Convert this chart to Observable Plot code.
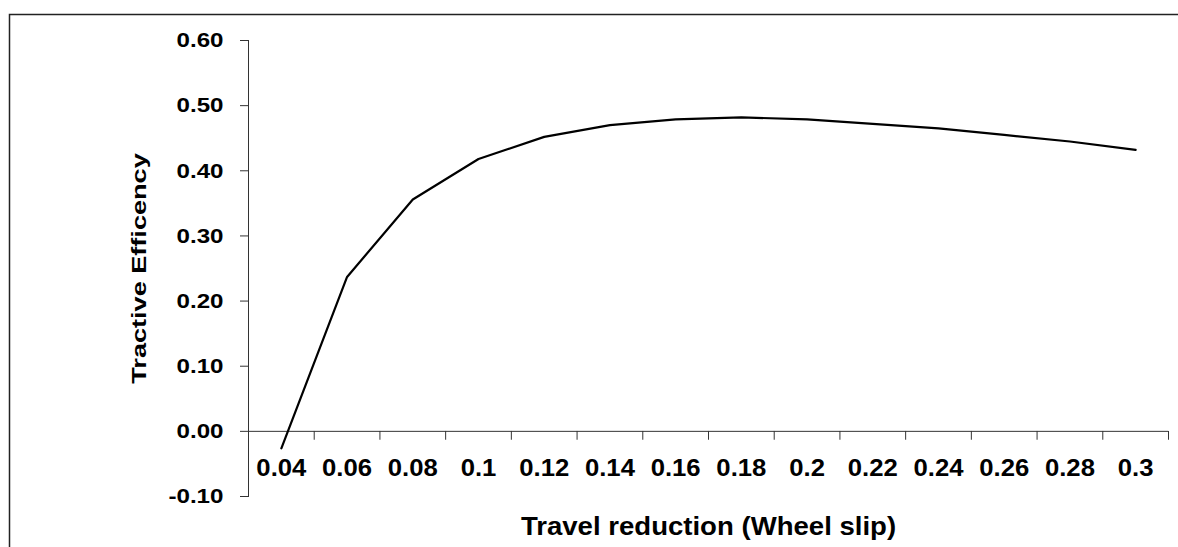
<!DOCTYPE html>
<html><head><meta charset="utf-8">
<script src="https://cdn.jsdelivr.net/npm/d3@7"></script>
<script src="https://cdn.jsdelivr.net/npm/@observablehq/plot@0.6"></script>
<style>
html,body{margin:0;padding:0;background:#fff;}
#chart{width:1178px;height:547px;overflow:hidden;}
</style>
</head><body><div id="chart"></div>
<script>
// Data
const slipLabels = ["0.04","0.06","0.08","0.1","0.12","0.14","0.16","0.18","0.2","0.22","0.24","0.26","0.28","0.3"];
const efficiency = [-0.026, 0.237, 0.356, 0.418, 0.452, 0.470, 0.479, 0.482, 0.479, 0.472, 0.465, 0.455, 0.445, 0.432];
const yTicks = [-0.1, 0, 0.1, 0.2, 0.3, 0.4, 0.5, 0.6];
const xTitle = "Travel reduction (Wheel slip)";
const yTitle = "Tractive Efficency";

const data = slipLabels.map((label, i) => ({label, pos: i + 0.5, value: efficiency[i]}));
const boundaries = d3.range(slipLabels.length + 1);

const tickShape = {draw(ctx, l) { ctx.moveTo(0, 0); ctx.lineTo(0, -l); }};
const axisColor = "#333";
const fmtY = d => d.toFixed(2); // plain hyphen minus like the reference

const chart = Plot.plot({
  width: 1178,
  height: 547,
  marginLeft: 248,
  marginRight: 10,
  marginTop: 40,
  marginBottom: 51,
  style: {fontFamily: "'Liberation Sans', Arial, sans-serif", fontSize: "21px", fontWeight: "bold", color: "#000", background: "#fff"},
  x: {domain: [0, slipLabels.length], axis: null},
  y: {domain: [-0.1, 0.6], axis: null},
  marks: [
    Plot.axisY({ticks: yTicks, tickFormat: fmtY, tickSize: 8, tickPadding: 17, fontSize: 21, label: null, stroke: axisColor, fill: "#000"}),
    Plot.frame({anchor: "left", stroke: axisColor}),
    Plot.ruleY([0], {stroke: axisColor}),
    Plot.vector(boundaries, {x: d => d, y: 0, length: 8, rotate: 180, anchor: "start", shape: tickShape, stroke: axisColor, strokeWidth: 1}),
    Plot.text(data, {x: "pos", y: 0, text: "label", dy: 37, fontSize: 24, lineAnchor: "middle", fill: "#000", ariaLabel: () => "x-labels"}),
    Plot.line(data, {x: "pos", y: "value", stroke: "#000", strokeWidth: 2.2}),
    Plot.text([xTitle], {text: d => d, frameAnchor: "bottom", dy: 30.5, fontSize: 26, textAnchor: "middle", lineAnchor: "middle", fill: "#000", ariaLabel: () => "x-title"}),
    Plot.text([yTitle], {text: d => d, frameAnchor: "left", dx: -109, rotate: -90, fontSize: 21, textAnchor: "middle", lineAnchor: "middle", fill: "#000", ariaLabel: () => "y-title"})
  ]
});

document.getElementById("chart").appendChild(chart);

// Widen text glyphs to match the reference's wide bold rendering
const stretch = {"y-axis tick label": 1.15, "x-labels": 1.07, "x-title": 1.06, "y-title": 1.29};
chart.querySelectorAll("text").forEach(t => {
  let key = t.getAttribute("aria-label");
  if (!key || !(key in stretch)) {
    const g = t.parentNode && t.parentNode.closest ? t.parentNode.closest("g[aria-label]") : null;
    key = g ? g.getAttribute("aria-label") : null;
  }
  const f = key && stretch[key] ? stretch[key] : 1;
  const w = t.getComputedTextLength();
  if (w > 0 && f !== 1) {
    t.setAttribute("textLength", (w * f).toFixed(1));
    t.setAttribute("lengthAdjust", "spacingAndGlyphs");
  }
});

// Outer chart-area border (top and left edges visible)
d3.select(chart).append("path")
  .attr("d", "M9.5,547V14.5H1178")
  .attr("fill", "none")
  .attr("stroke", "#222")
  .attr("stroke-width", 1.5);
</script>
</body></html>
